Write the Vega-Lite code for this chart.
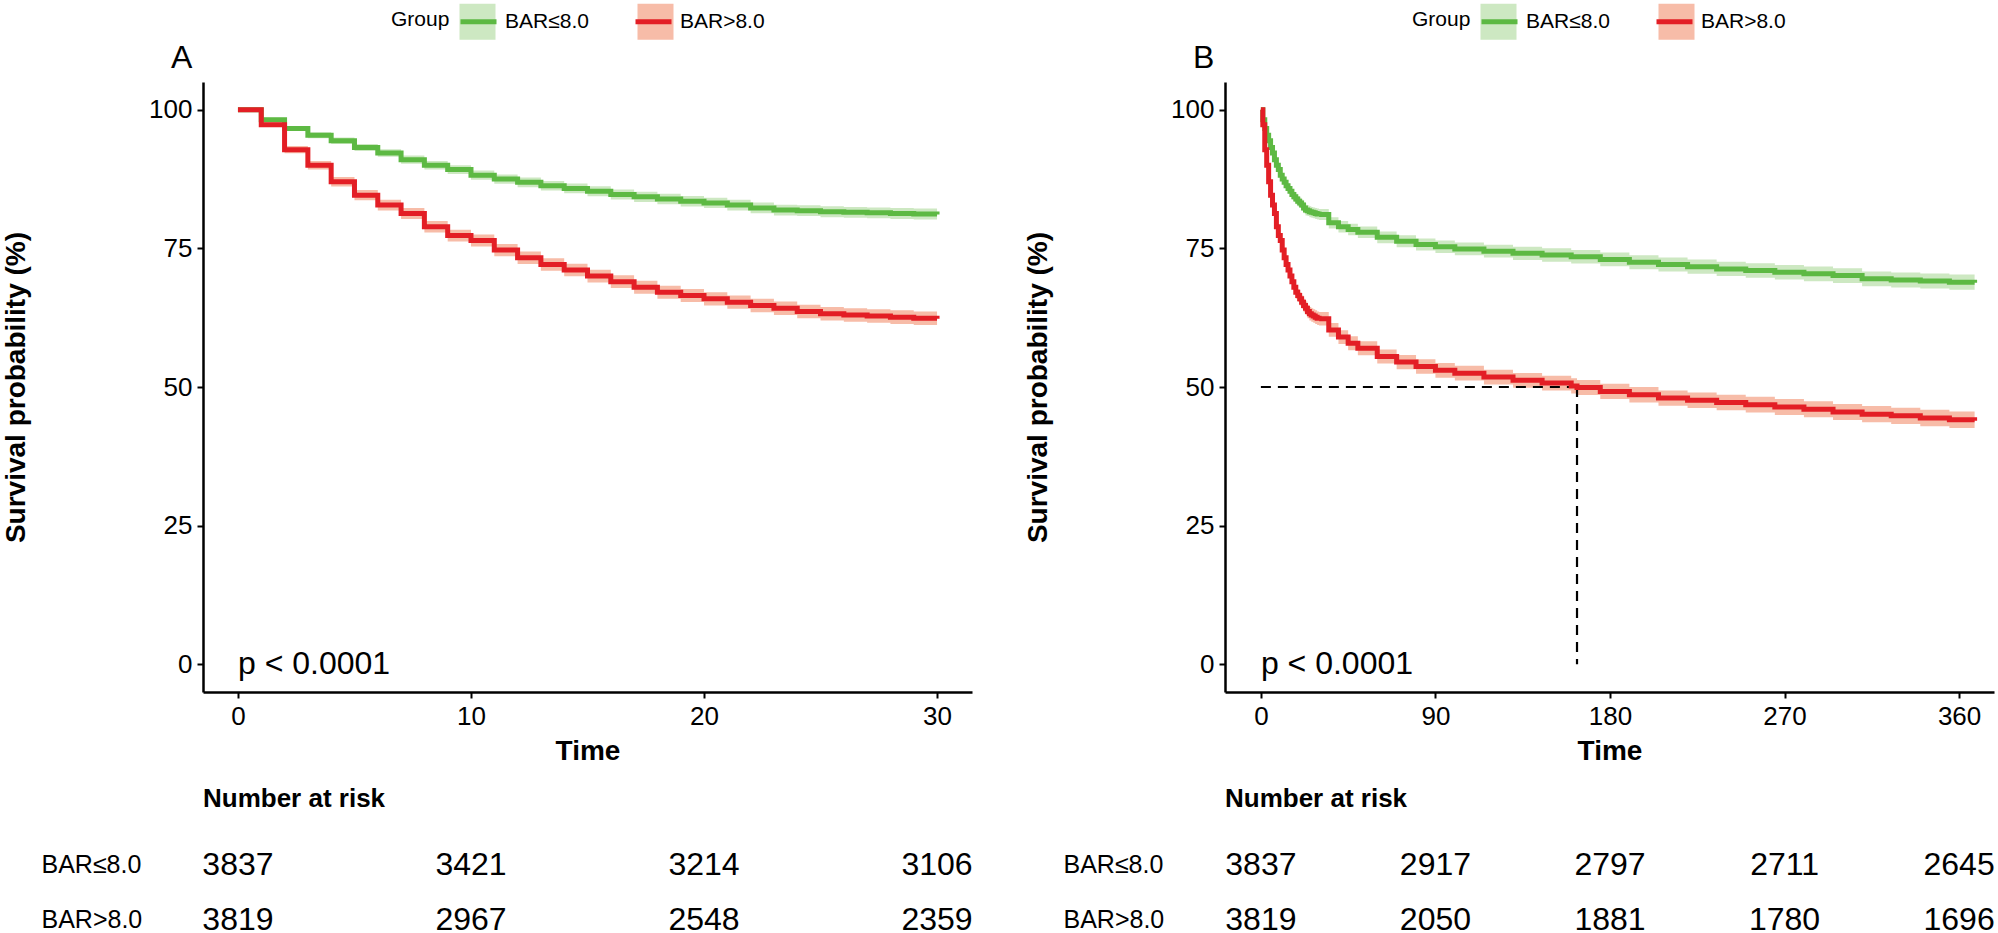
{
"$schema": "https://vega.github.io/schema/vega-lite/v6.json",
"background": "white",
"padding": {"left": 2, "top": 1, "right": 3, "bottom": 0},
"config": {
 "font": "Liberation Sans",
 "view": {"stroke": null},
 "axis": {"domainColor": "black", "domainWidth": 2.5, "tickColor": "black", "tickWidth": 2, "tickSize": 6, "labelColor": "black", "labelFontSize": 26, "labelPadding": 5, "titleFontSize": 28, "titleFontWeight": "bold", "titleColor": "black", "grid": false},
 "legend": {"labelColor": "black", "titleColor": "black"},
 "title": {"color": "black"},
 "text": {"color": "black"}
},
"datasets": {
 "kmA": [
{"g":"BAR≤8.0","t":0,"s":100,"lo":100,"hi":100},
{"g":"BAR≤8.0","t":1,"s":98.2,"lo":97.85,"hi":98.55},
{"g":"BAR≤8.0","t":2,"s":96.6,"lo":96.15,"hi":97.05},
{"g":"BAR≤8.0","t":3,"s":95.4,"lo":94.87,"hi":95.93},
{"g":"BAR≤8.0","t":4,"s":94.4,"lo":93.82,"hi":94.98},
{"g":"BAR≤8.0","t":5,"s":93.2,"lo":92.56,"hi":93.84},
{"g":"BAR≤8.0","t":6,"s":92.2,"lo":91.52,"hi":92.88},
{"g":"BAR≤8.0","t":7,"s":91.0,"lo":90.27,"hi":91.73},
{"g":"BAR≤8.0","t":8,"s":90.0,"lo":89.24,"hi":90.76},
{"g":"BAR≤8.0","t":9,"s":89.2,"lo":88.42,"hi":89.98},
{"g":"BAR≤8.0","t":10,"s":88.2,"lo":87.38,"hi":89.02},
{"g":"BAR≤8.0","t":11,"s":87.5,"lo":86.66,"hi":88.34},
{"g":"BAR≤8.0","t":12,"s":86.9,"lo":86.04,"hi":87.76},
{"g":"BAR≤8.0","t":13,"s":86.3,"lo":85.43,"hi":87.17},
{"g":"BAR≤8.0","t":14,"s":85.8,"lo":84.92,"hi":86.68},
{"g":"BAR≤8.0","t":15,"s":85.3,"lo":84.4,"hi":86.2},
{"g":"BAR≤8.0","t":16,"s":84.7,"lo":83.79,"hi":85.61},
{"g":"BAR≤8.0","t":17,"s":84.3,"lo":83.38,"hi":85.22},
{"g":"BAR≤8.0","t":18,"s":83.9,"lo":82.97,"hi":84.83},
{"g":"BAR≤8.0","t":19,"s":83.5,"lo":82.56,"hi":84.44},
{"g":"BAR≤8.0","t":20,"s":83.2,"lo":82.26,"hi":84.14},
{"g":"BAR≤8.0","t":21,"s":82.8,"lo":81.85,"hi":83.75},
{"g":"BAR≤8.0","t":22,"s":82.3,"lo":81.33,"hi":83.27},
{"g":"BAR≤8.0","t":23,"s":81.9,"lo":80.92,"hi":82.88},
{"g":"BAR≤8.0","t":24,"s":81.8,"lo":80.82,"hi":82.78},
{"g":"BAR≤8.0","t":25,"s":81.6,"lo":80.62,"hi":82.58},
{"g":"BAR≤8.0","t":26,"s":81.5,"lo":80.52,"hi":82.48},
{"g":"BAR≤8.0","t":27,"s":81.4,"lo":80.41,"hi":82.39},
{"g":"BAR≤8.0","t":28,"s":81.3,"lo":80.31,"hi":82.29},
{"g":"BAR≤8.0","t":29,"s":81.2,"lo":80.21,"hi":82.19},
{"g":"BAR≤8.0","t":30,"s":81.1,"lo":80.11,"hi":82.09},
{"g":"BAR>8.0","t":0,"s":100,"lo":100,"hi":100},
{"g":"BAR>8.0","t":1,"s":97.3,"lo":96.9,"hi":97.7},
{"g":"BAR>8.0","t":2,"s":92.8,"lo":92.15,"hi":93.45},
{"g":"BAR>8.0","t":3,"s":90.0,"lo":89.24,"hi":90.76},
{"g":"BAR>8.0","t":4,"s":87.0,"lo":86.14,"hi":87.86},
{"g":"BAR>8.0","t":5,"s":84.6,"lo":83.69,"hi":85.51},
{"g":"BAR>8.0","t":6,"s":82.8,"lo":81.84,"hi":83.76},
{"g":"BAR>8.0","t":7,"s":81.3,"lo":80.3,"hi":82.3},
{"g":"BAR>8.0","t":8,"s":78.9,"lo":77.87,"hi":79.93},
{"g":"BAR>8.0","t":9,"s":77.3,"lo":76.24,"hi":78.36},
{"g":"BAR>8.0","t":10,"s":76.4,"lo":75.32,"hi":77.48},
{"g":"BAR>8.0","t":11,"s":74.7,"lo":73.6,"hi":75.8},
{"g":"BAR>8.0","t":12,"s":73.3,"lo":72.18,"hi":74.42},
{"g":"BAR>8.0","t":13,"s":72.1,"lo":70.97,"hi":73.23},
{"g":"BAR>8.0","t":14,"s":71.1,"lo":69.96,"hi":72.24},
{"g":"BAR>8.0","t":15,"s":70.0,"lo":68.85,"hi":71.15},
{"g":"BAR>8.0","t":16,"s":69.0,"lo":67.84,"hi":70.16},
{"g":"BAR>8.0","t":17,"s":68.0,"lo":66.83,"hi":69.17},
{"g":"BAR>8.0","t":18,"s":67.1,"lo":65.92,"hi":68.28},
{"g":"BAR>8.0","t":19,"s":66.5,"lo":65.31,"hi":67.69},
{"g":"BAR>8.0","t":20,"s":65.9,"lo":64.71,"hi":67.09},
{"g":"BAR>8.0","t":21,"s":65.3,"lo":64.1,"hi":66.5},
{"g":"BAR>8.0","t":22,"s":64.7,"lo":63.49,"hi":65.91},
{"g":"BAR>8.0","t":23,"s":64.2,"lo":62.99,"hi":65.41},
{"g":"BAR>8.0","t":24,"s":63.6,"lo":62.38,"hi":64.82},
{"g":"BAR>8.0","t":25,"s":63.2,"lo":61.98,"hi":64.42},
{"g":"BAR>8.0","t":26,"s":63.0,"lo":61.78,"hi":64.22},
{"g":"BAR>8.0","t":27,"s":62.8,"lo":61.57,"hi":64.03},
{"g":"BAR>8.0","t":28,"s":62.6,"lo":61.37,"hi":63.83},
{"g":"BAR>8.0","t":29,"s":62.4,"lo":61.17,"hi":63.63},
{"g":"BAR>8.0","t":30,"s":62.3,"lo":61.07,"hi":63.53}
 ],
 "kmB": [
{"g":"BAR≤8.0","t":30,"s":81.1,"lo":80.11,"hi":82.09},
{"g":"BAR≤8.0","t":35,"s":79.6,"lo":78.6,"hi":80.6},
{"g":"BAR≤8.0","t":40,"s":78.9,"lo":77.88,"hi":79.92},
{"g":"BAR≤8.0","t":45,"s":78.4,"lo":77.37,"hi":79.43},
{"g":"BAR≤8.0","t":50,"s":77.9,"lo":76.86,"hi":78.94},
{"g":"BAR≤8.0","t":60,"s":77.0,"lo":75.94,"hi":78.06},
{"g":"BAR≤8.0","t":70,"s":76.3,"lo":75.22,"hi":77.38},
{"g":"BAR≤8.0","t":80,"s":75.7,"lo":74.6,"hi":76.8},
{"g":"BAR≤8.0","t":90,"s":75.3,"lo":74.18,"hi":76.42},
{"g":"BAR≤8.0","t":100,"s":74.9,"lo":73.76,"hi":76.04},
{"g":"BAR≤8.0","t":115,"s":74.5,"lo":73.34,"hi":75.66},
{"g":"BAR≤8.0","t":130,"s":74.1,"lo":72.92,"hi":75.28},
{"g":"BAR≤8.0","t":145,"s":73.8,"lo":72.6,"hi":75.0},
{"g":"BAR≤8.0","t":160,"s":73.5,"lo":72.28,"hi":74.72},
{"g":"BAR≤8.0","t":175,"s":73.0,"lo":71.76,"hi":74.24},
{"g":"BAR≤8.0","t":190,"s":72.5,"lo":71.24,"hi":73.76},
{"g":"BAR≤8.0","t":205,"s":72.1,"lo":70.83,"hi":73.37},
{"g":"BAR≤8.0","t":220,"s":71.7,"lo":70.42,"hi":72.98},
{"g":"BAR≤8.0","t":235,"s":71.3,"lo":70.01,"hi":72.59},
{"g":"BAR≤8.0","t":250,"s":71.0,"lo":69.7,"hi":72.3},
{"g":"BAR≤8.0","t":265,"s":70.7,"lo":69.39,"hi":72.01},
{"g":"BAR≤8.0","t":280,"s":70.4,"lo":69.08,"hi":71.72},
{"g":"BAR≤8.0","t":295,"s":70.1,"lo":68.77,"hi":71.43},
{"g":"BAR≤8.0","t":310,"s":69.5,"lo":68.16,"hi":70.84},
{"g":"BAR≤8.0","t":325,"s":69.3,"lo":67.95,"hi":70.65},
{"g":"BAR≤8.0","t":340,"s":69.1,"lo":67.74,"hi":70.46},
{"g":"BAR≤8.0","t":355,"s":68.9,"lo":67.53,"hi":70.27},
{"g":"BAR≤8.0","t":368,"s":68.8,"lo":67.42,"hi":70.18},
{"g":"BAR>8.0","t":30,"s":62.3,"lo":61.07,"hi":63.53},
{"g":"BAR>8.0","t":35,"s":60.3,"lo":59.06,"hi":61.54},
{"g":"BAR>8.0","t":40,"s":59.0,"lo":57.75,"hi":60.25},
{"g":"BAR>8.0","t":45,"s":57.9,"lo":56.64,"hi":59.16},
{"g":"BAR>8.0","t":50,"s":57.0,"lo":55.73,"hi":58.27},
{"g":"BAR>8.0","t":60,"s":55.5,"lo":54.22,"hi":56.78},
{"g":"BAR>8.0","t":70,"s":54.5,"lo":53.21,"hi":55.79},
{"g":"BAR>8.0","t":80,"s":53.7,"lo":52.4,"hi":55.0},
{"g":"BAR>8.0","t":90,"s":53.0,"lo":51.69,"hi":54.31},
{"g":"BAR>8.0","t":100,"s":52.5,"lo":51.18,"hi":53.82},
{"g":"BAR>8.0","t":115,"s":51.8,"lo":50.47,"hi":53.13},
{"g":"BAR>8.0","t":130,"s":51.2,"lo":49.86,"hi":52.54},
{"g":"BAR>8.0","t":145,"s":50.7,"lo":49.35,"hi":52.05},
{"g":"BAR>8.0","t":160,"s":50.2,"lo":48.84,"hi":51.56},
{"g":"BAR>8.0","t":163,"s":49.9,"lo":48.54,"hi":51.26},
{"g":"BAR>8.0","t":175,"s":49.2,"lo":47.83,"hi":50.57},
{"g":"BAR>8.0","t":190,"s":48.6,"lo":47.22,"hi":49.98},
{"g":"BAR>8.0","t":205,"s":48.0,"lo":46.61,"hi":49.39},
{"g":"BAR>8.0","t":220,"s":47.6,"lo":46.2,"hi":49.0},
{"g":"BAR>8.0","t":235,"s":47.2,"lo":45.79,"hi":48.61},
{"g":"BAR>8.0","t":250,"s":46.8,"lo":45.38,"hi":48.22},
{"g":"BAR>8.0","t":265,"s":46.4,"lo":44.97,"hi":47.83},
{"g":"BAR>8.0","t":280,"s":46.0,"lo":44.56,"hi":47.44},
{"g":"BAR>8.0","t":295,"s":45.5,"lo":44.05,"hi":46.95},
{"g":"BAR>8.0","t":310,"s":45.1,"lo":43.64,"hi":46.56},
{"g":"BAR>8.0","t":325,"s":44.8,"lo":43.33,"hi":46.27},
{"g":"BAR>8.0","t":340,"s":44.4,"lo":42.92,"hi":45.88},
{"g":"BAR>8.0","t":355,"s":44.1,"lo":42.61,"hi":45.59},
{"g":"BAR>8.0","t":368,"s":43.9,"lo":42.4,"hi":45.4}
 ],
 "riskA": [
{"g":"BAR≤8.0","t":0,"n":3837},{"g":"BAR≤8.0","t":10,"n":3421},{"g":"BAR≤8.0","t":20,"n":3214},{"g":"BAR≤8.0","t":30,"n":3106},
{"g":"BAR>8.0","t":0,"n":3819},{"g":"BAR>8.0","t":10,"n":2967},{"g":"BAR>8.0","t":20,"n":2548},{"g":"BAR>8.0","t":30,"n":2359}
 ],
 "riskB": [
{"g":"BAR≤8.0","t":0,"n":3837},{"g":"BAR≤8.0","t":90,"n":2917},{"g":"BAR≤8.0","t":180,"n":2797},{"g":"BAR≤8.0","t":270,"n":2711},{"g":"BAR≤8.0","t":360,"n":2645},
{"g":"BAR>8.0","t":0,"n":3819},{"g":"BAR>8.0","t":90,"n":2050},{"g":"BAR>8.0","t":180,"n":1881},{"g":"BAR>8.0","t":270,"n":1780},{"g":"BAR>8.0","t":360,"n":1696}
 ]
},
"spacing": 51,
"resolve": {"scale": {"fill": "independent", "stroke": "independent", "y": "independent", "x": "independent"}, "legend": {"fill": "independent", "stroke": "independent"}},
"hconcat": [
 {
  "spacing": 20,
  "resolve": {"scale": {"fill": "independent", "stroke": "independent", "y": "independent"}, "legend": {"fill": "independent", "stroke": "independent"}},
  "vconcat": [
   {
    "width": 769, "height": 610,
    "title": {"text": "A", "anchor": "start", "frame": "group", "dx": -32, "offset": -99, "fontSize": 32, "fontWeight": "normal", "baseline": "alphabetic"},
    "layer": [
     {"data": {"name": "kmA"}, "mark": {"type": "area", "interpolate": "step-after", "opacity": 1},
      "encoding": {
       "x": {"field": "t", "type": "quantitative", "title": "Time", "scale": {"domain": [-1.5, 31.5], "nice": false, "zero": false}, "axis": {"values": [0, 10, 20, 30], "titlePadding": 8}},
       "y": {"field": "lo", "type": "quantitative", "title": "Survival probability (%)", "scale": {"domain": [-5, 105], "nice": false, "zero": false}, "axis": {"values": [0, 25, 50, 75, 100], "titlePadding": 118}},
       "y2": {"field": "hi"},
       "fill": {"field": "g", "type": "nominal", "scale": {"domain": ["BAR≤8.0", "BAR>8.0"], "range": ["#CDE8C2", "#F7BCA8"]},
        "legend": {"orient": "none", "legendX": 254, "legendY": -81, "direction": "horizontal", "title": null, "labelExpr": "''", "labelFontSize": 21, "labelOffset": 6, "columnPadding": 121, "symbolType": "square", "symbolSize": 1296, "symbolStrokeWidth": 5, "symbolStrokeColor": "transparent", "padding": 0}}
      }},
     {"data": {"name": "kmA"}, "mark": {"type": "line", "interpolate": "step-after", "strokeWidth": 5},
      "encoding": {
       "x": {"field": "t", "type": "quantitative", "title": "Time"},
       "y": {"field": "s", "type": "quantitative", "title": "Survival probability (%)"},
       "stroke": {"field": "g", "type": "nominal", "sort": ["BAR≤8.0", "BAR>8.0"], "scale": {"range": ["#5DB943", "#E31E25"]},
        "legend": {"orient": "none", "legendX": 188, "legendY": -81, "direction": "horizontal", "title": ["", "Group"], "titleLineHeight": 8, "titleOrient": "left", "titleAnchor": "middle", "titleFontSize": 21, "titleFontWeight": "normal", "titlePadding": 8, "labelFontSize": 21, "labelOffset": 6, "columnPadding": 36, "symbolType": "stroke", "symbolSize": 1296, "symbolStrokeWidth": 5, "padding": 0}}
      }},
     {"data": {"values": [{}]}, "mark": {"type": "text", "align": "left", "baseline": "middle", "fontSize": 32},
      "encoding": {"x": {"datum": 0, "type": "quantitative"}, "y": {"datum": 0, "type": "quantitative"}, "text": {"value": "p < 0.0001"}}}
    ]
   },
   {
    "width": 769, "height": 66,
    "title": {"text": "Number at risk", "anchor": "start", "frame": "group", "fontSize": 26, "fontWeight": "bold", "baseline": "alphabetic", "offset": 16},
    "data": {"name": "riskA"},
    "mark": {"type": "text", "fontSize": 32, "baseline": "middle"},
    "encoding": {
     "x": {"field": "t", "type": "quantitative", "scale": {"domain": [-1.5, 31.5], "nice": false, "zero": false}, "axis": null},
     "y": {"field": "g", "type": "nominal", "sort": ["BAR≤8.0", "BAR>8.0"], "scale": {"type": "point", "padding": 0.1}, "axis": {"title": null, "domain": false, "ticks": false, "tickSize": 0, "labelAlign": "left", "labelPadding": 162, "labelFontSize": 25, "labelBaseline": "middle"}},
     "text": {"field": "n", "type": "quantitative", "format": "d"}
    }
   }
  ]
 },
 {
  "spacing": 20,
  "resolve": {"scale": {"fill": "independent", "stroke": "independent", "y": "independent"}, "legend": {"fill": "independent", "stroke": "independent"}},
  "vconcat": [
   {
    "width": 769, "height": 610,
    "title": {"text": "B", "anchor": "start", "frame": "group", "dx": -32, "offset": -99, "fontSize": 32, "fontWeight": "normal", "baseline": "alphabetic"},
    "layer": [
     {"data": {"name": "kmA"}, "mark": {"type": "area", "interpolate": "step-after", "opacity": 1},
      "encoding": {
       "x": {"field": "t", "type": "quantitative", "title": "Time", "scale": {"domain": [-18.5, 378], "nice": false, "zero": false}, "axis": {"values": [0, 90, 180, 270, 360], "titlePadding": 8}},
       "y": {"field": "lo", "type": "quantitative", "title": "Survival probability (%)", "scale": {"domain": [-5, 105], "nice": false, "zero": false}, "axis": {"values": [0, 25, 50, 75, 100], "titlePadding": 118}},
       "y2": {"field": "hi"},
       "fill": {"field": "g", "type": "nominal", "scale": {"domain": ["BAR≤8.0", "BAR>8.0"], "range": ["#CDE8C2", "#F7BCA8"]},
        "legend": {"orient": "none", "legendX": 253, "legendY": -81, "direction": "horizontal", "title": null, "labelExpr": "''", "labelFontSize": 21, "labelOffset": 6, "columnPadding": 121, "symbolType": "square", "symbolSize": 1296, "symbolStrokeWidth": 5, "symbolStrokeColor": "transparent", "padding": 0}}
      }},
     {"data": {"name": "kmB"}, "mark": {"type": "area", "interpolate": "step-after", "opacity": 1},
      "encoding": {
       "x": {"field": "t", "type": "quantitative", "title": "Time"},
       "y": {"field": "lo", "type": "quantitative", "title": "Survival probability (%)"},
       "y2": {"field": "hi"},
       "fill": {"field": "g", "type": "nominal"}
      }},
     {"data": {"values": [{}]}, "mark": {"type": "rule", "strokeDash": [10, 7], "strokeWidth": 2.2, "color": "black"},
      "encoding": {"x": {"datum": 0, "type": "quantitative"}, "x2": {"datum": 163}, "y": {"datum": 50, "type": "quantitative"}}},
     {"data": {"values": [{}]}, "mark": {"type": "rule", "strokeDash": [10, 7], "strokeWidth": 2.2, "color": "black"},
      "encoding": {"x": {"datum": 163, "type": "quantitative"}, "y": {"datum": 50, "type": "quantitative"}, "y2": {"datum": 0}}},
     {"data": {"name": "kmA"}, "mark": {"type": "line", "interpolate": "step-after", "strokeWidth": 5},
      "encoding": {
       "x": {"field": "t", "type": "quantitative", "title": "Time"},
       "y": {"field": "s", "type": "quantitative", "title": "Survival probability (%)"},
       "stroke": {"field": "g", "type": "nominal", "sort": ["BAR≤8.0", "BAR>8.0"], "scale": {"range": ["#5DB943", "#E31E25"]},
        "legend": {"orient": "none", "legendX": 187, "legendY": -81, "direction": "horizontal", "title": ["", "Group"], "titleLineHeight": 8, "titleOrient": "left", "titleAnchor": "middle", "titleFontSize": 21, "titleFontWeight": "normal", "titlePadding": 8, "labelFontSize": 21, "labelOffset": 6, "columnPadding": 36, "symbolType": "stroke", "symbolSize": 1296, "symbolStrokeWidth": 5, "padding": 0}}
      }},
     {"data": {"name": "kmB"}, "mark": {"type": "line", "interpolate": "step-after", "strokeWidth": 5},
      "encoding": {
       "x": {"field": "t", "type": "quantitative", "title": "Time"},
       "y": {"field": "s", "type": "quantitative", "title": "Survival probability (%)"},
       "stroke": {"field": "g", "type": "nominal", "sort": ["BAR≤8.0", "BAR>8.0"]}
      }},
     {"data": {"values": [{}]}, "mark": {"type": "text", "align": "left", "baseline": "middle", "fontSize": 32},
      "encoding": {"x": {"datum": 0, "type": "quantitative"}, "y": {"datum": 0, "type": "quantitative"}, "text": {"value": "p < 0.0001"}}}
    ]
   },
   {
    "width": 769, "height": 66,
    "title": {"text": "Number at risk", "anchor": "start", "frame": "group", "fontSize": 26, "fontWeight": "bold", "baseline": "alphabetic", "offset": 16},
    "data": {"name": "riskB"},
    "mark": {"type": "text", "fontSize": 32, "baseline": "middle"},
    "encoding": {
     "x": {"field": "t", "type": "quantitative", "scale": {"domain": [-18.5, 378], "nice": false, "zero": false}, "axis": null},
     "y": {"field": "g", "type": "nominal", "sort": ["BAR≤8.0", "BAR>8.0"], "scale": {"type": "point", "padding": 0.1}, "axis": {"title": null, "domain": false, "ticks": false, "tickSize": 0, "labelAlign": "left", "labelPadding": 162, "labelFontSize": 25, "labelBaseline": "middle"}},
     "text": {"field": "n", "type": "quantitative", "format": "d"}
    }
   }
  ]
 }
]
}
